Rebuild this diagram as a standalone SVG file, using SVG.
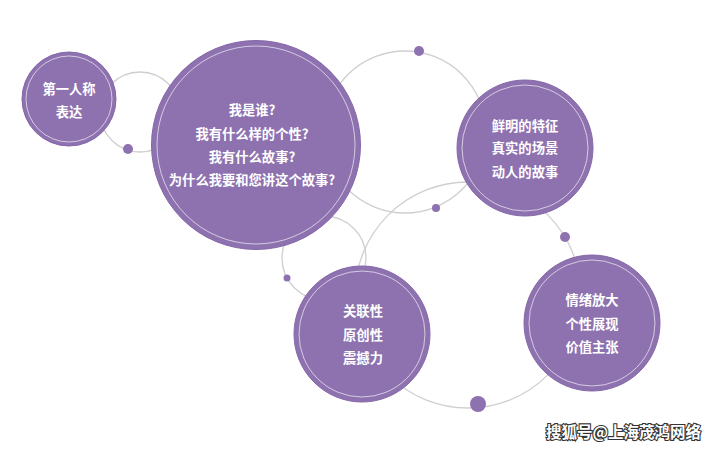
<svg xmlns="http://www.w3.org/2000/svg" width="715" height="449" viewBox="0 0 715 449">
<style>
.bub{fill:#8e72b0;stroke:#8568a9;stroke-width:1}
.ring{fill:none;stroke:#ffffff;stroke-opacity:0.7;stroke-width:0.9}
.con{fill:none;stroke:#cfcfcf;stroke-width:1.3}
.dot{fill:#8e72b0}
.t{font-family:"Noto Sans CJK SC","Noto Sans",sans-serif;font-weight:bold;fill:#ffffff;text-anchor:middle;font-size:13.3px}
.wm{font-family:"Noto Sans CJK SC","Noto Sans",sans-serif;font-weight:bold;fill:#ffffff;stroke:#333333;stroke-width:2.2;paint-order:stroke;font-size:15.5px}
</style>
<rect width="715" height="449" fill="#ffffff"/>
<g id="connectors">
<circle class="con" cx="140" cy="112" r="40"/>
<circle class="con" cx="405" cy="132" r="81"/>
<circle class="con" cx="324" cy="258" r="42"/>
<circle class="con" cx="468" cy="295" r="113"/>
<circle class="dot" cx="128" cy="149" r="5"/>
<circle class="dot" cx="419" cy="51" r="5"/>
<circle class="dot" cx="436" cy="208" r="4"/>
<circle class="dot" cx="565" cy="237" r="5"/>
<circle class="dot" cx="287" cy="278" r="3.5"/>
<circle class="dot" cx="478" cy="404" r="8"/>
</g>
<g id="node-first-person">
<circle class="bub" cx="69" cy="99" r="47"/>
<circle class="ring" cx="69" cy="99" r="43"/>
<text class="t" x="69" y="94" font-size="13.5">第一人称</text>
<text class="t" x="69" y="117" font-size="13.5">表达</text>
</g>
<g id="node-who">
<circle class="bub" cx="256" cy="145" r="104.5"/>
<circle class="ring" cx="256" cy="145" r="99"/>
<text class="t" x="252" y="115">我是谁?</text>
<text class="t" x="252" y="139">我有什么样的个性?</text>
<text class="t" x="252" y="162">我有什么故事?</text>
<text class="t" x="252" y="185">为什么我要和您讲这个故事?</text>
</g>
<g id="node-features">
<circle class="bub" cx="525" cy="148" r="68"/>
<circle class="ring" cx="525" cy="148" r="63"/>
<text class="t" x="525" y="131">鲜明的特征</text>
<text class="t" x="525" y="153">真实的场景</text>
<text class="t" x="525" y="177">动人的故事</text>
</g>
<g id="node-relevance">
<circle class="bub" cx="362" cy="334" r="68"/>
<circle class="ring" cx="362" cy="334" r="63"/>
<text class="t" x="363" y="316">关联性</text>
<text class="t" x="363" y="340">原创性</text>
<text class="t" x="363" y="363">震撼力</text>
</g>
<g id="node-emotion">
<circle class="bub" cx="592" cy="323" r="68"/>
<circle class="ring" cx="592" cy="323" r="63"/>
<text class="t" x="592" y="305">情绪放大</text>
<text class="t" x="592" y="329">个性展现</text>
<text class="t" x="592" y="352">价值主张</text>
</g>
<text class="wm" x="546" y="438">搜狐号@上海茂鸿网络</text>
</svg>
